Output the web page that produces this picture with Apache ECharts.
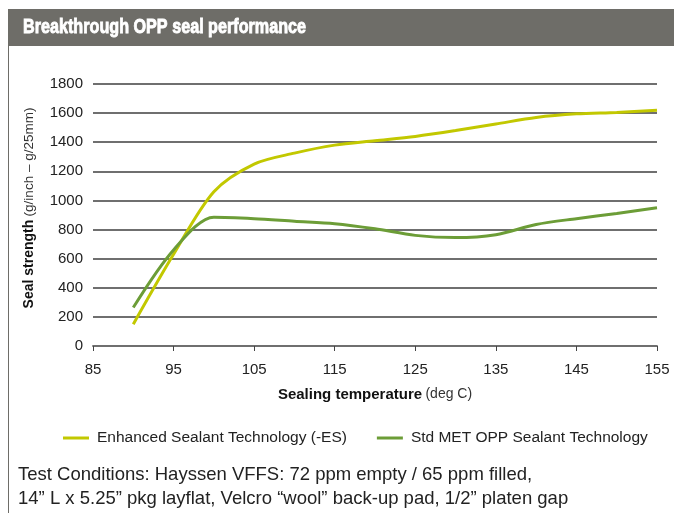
<!DOCTYPE html>
<html><head><meta charset="utf-8">
<script src="https://cdn.jsdelivr.net/npm/echarts@6/dist/echarts.min.js"></script>
<style>html,body{margin:0;padding:0;background:#fff}#c{width:674px;height:513px}</style>
</head><body><div id="c"></div>
<script>
const temps = [90, 95, 100, 105, 110, 115, 120, 125, 130, 135, 140, 145, 150, 155];
const enhanced = [150, 630, 1060, 1250, 1325, 1380, 1410, 1440, 1480, 1525, 1570, 1595, 1605, 1620];
const standard = [265, 660, 885, 875, 857, 840, 805, 760, 745, 765, 835, 875, 910, 950];
const seriesNames = ['Enhanced Sealant Technology (-ES)', 'Std MET OPP Sealant Technology'];
const xTicks = [85, 95, 105, 115, 125, 135, 145, 155];
const yTicks = [0, 200, 400, 600, 800, 1000, 1200, 1400, 1600, 1800];

const chart = echarts.init(document.getElementById('c'));
const font = '"Liberation Sans", Arial, sans-serif';
chart.setOption({
  animation: false,
  grid: {left: 93, right: 17, top: 84, bottom: 167, containLabel: false},
  legend: {
    top: 430, left: 63, padding: 0, itemGap: 30, itemWidth: 26, itemHeight: 3, icon: 'rect',
    textStyle: {fontFamily: font, fontSize: 15.5, color: '#222', padding: [0, 0, 0, 3]},
    data: seriesNames
  },
  xAxis: {
    type: 'value', min: xTicks[0], max: xTicks[xTicks.length - 1], interval: 10,
    axisLine: {show: true, lineStyle: {color: '#6f6f6f', width: 1.8}},
    axisTick: {show: true, length: 5, lineStyle: {color: '#444'}},
    axisLabel: {fontFamily: font, fontSize: 15, color: '#222', margin: 16},
    splitLine: {show: false}
  },
  yAxis: {
    type: 'value', min: yTicks[0], max: yTicks[yTicks.length - 1], interval: 200,
    axisLine: {show: false}, axisTick: {show: false},
    axisLabel: {fontFamily: font, fontSize: 15, color: '#222', margin: 10, formatter: v => String(v)},
    splitLine: {show: true, lineStyle: {color: '#6f6f6f', width: 1.8}}
  },
  graphic: [
    {type: 'rect', shape: {x: 8, y: 9, width: 666, height: 37}, style: {fill: '#6e6d68'}},
    {type: 'line', shape: {x1: 8.5, y1: 46, x2: 8.5, y2: 513}, style: {stroke: '#6e6d68', lineWidth: 1}},
    {type: 'text', x: 23, y: 17, scaleX: 0.77, style: {text: 'Breakthrough OPP seal performance', fill: '#fff',
      stroke: '#fff', lineWidth: 0.9,
      font: 'bold 21px "Liberation Sans", Arial, sans-serif'}},
    {type: 'text', x: 22, y: 208, rotation: Math.PI / 2, style: {
      text: '{b|Seal strength} {n|(g/inch – g/25mm)}', align: 'center', verticalAlign: 'top',
      rich: {b: {fontWeight: 'bold', fontSize: 14, fill: '#111', fontFamily: font},
             n: {fontSize: 13.5, fill: '#333', fontFamily: font}}}},
    {type: 'text', x: 375, y: 387, style: {
      text: '{b|Sealing temperature} {n|(deg C)}', align: 'center', verticalAlign: 'top',
      rich: {b: {fontWeight: 'bold', fontSize: 15, fill: '#111', fontFamily: font},
             n: {fontSize: 14, fill: '#333', fontFamily: font}}}},
    {type: 'text', x: 18, y: 463, style: {
      text: 'Test Conditions: Hayssen VFFS: 72 ppm empty / 65 ppm filled,\n14” L x 5.25” pkg layflat, Velcro “wool” back-up pad, 1/2” platen gap',
      fill: '#222', font: '18.5px "Liberation Sans", Arial, sans-serif', lineHeight: 24}}
  ],
  series: [
    {name: seriesNames[0], type: 'line', smooth: 0.3, showSymbol: false,
     data: temps.map((t, i) => [t, enhanced[i]]),
     lineStyle: {color: '#c2c800', width: 3}, itemStyle: {color: '#c2c800'}},
    {name: seriesNames[1], type: 'line', smooth: 0.3, showSymbol: false,
     data: temps.map((t, i) => [t, standard[i]]),
     lineStyle: {color: '#6c9d37', width: 3}, itemStyle: {color: '#6c9d37'}}
  ]
});
</script></body></html>
